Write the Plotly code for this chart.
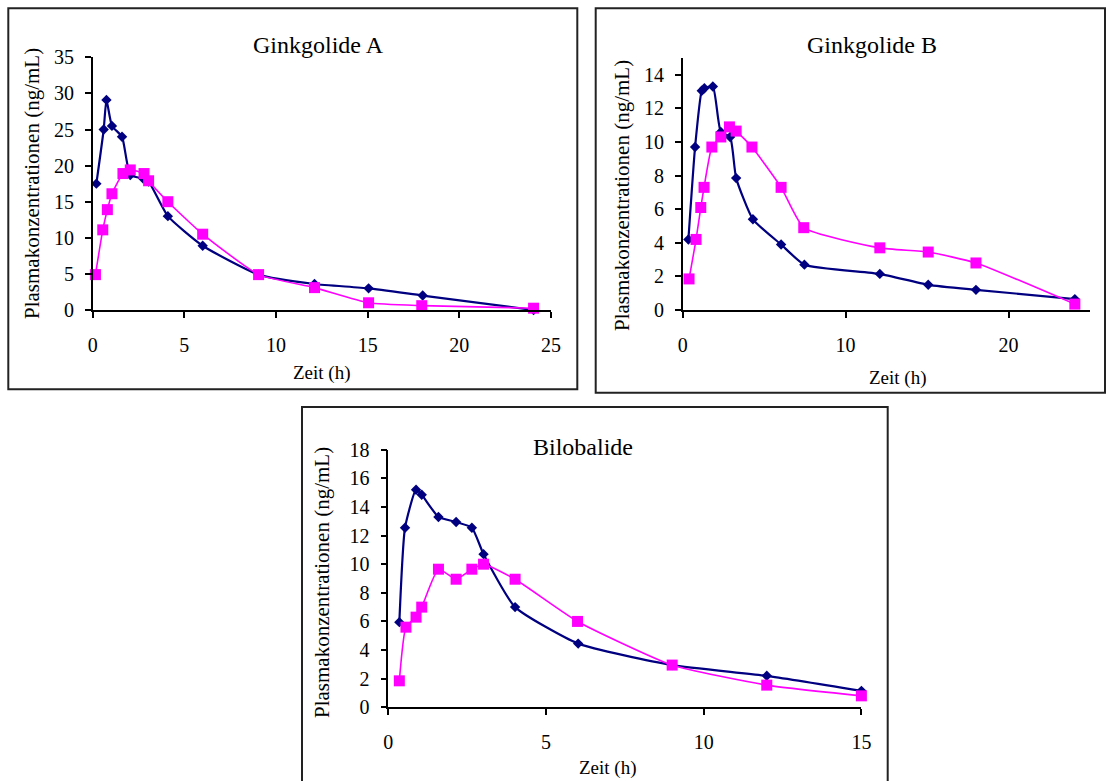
import plotly.graph_objects as go

W, H = 1109, 781

# Ginkgolide A
ga_t_blue = [0.2, 0.6, 0.75, 1.05, 1.6, 2.05, 2.75, 3.05, 4.1, 6.0, 9.05, 12.1, 15.05, 18.0, 24.05]
ga_c_blue = [17.5, 25.0, 29.1, 25.5, 24.0, 18.7, 18.2, 17.8, 13.0, 8.9, 4.9, 3.6, 3.0, 2.0, 0.0]
ga_t_pink = [0.15, 0.55, 0.8, 1.05, 1.65, 2.05, 2.8, 3.05, 4.1, 6.0, 9.05, 12.1, 15.05, 17.95, 24.05]
ga_c_pink = [4.9, 11.1, 13.9, 16.1, 18.9, 19.4, 18.9, 17.9, 15.0, 10.5, 4.9, 3.1, 1.0, 0.6, 0.25]

# Ginkgolide B
gb_t_blue = [0.35, 0.76, 1.17, 1.33, 1.85, 2.34, 2.91, 3.28, 4.31, 6.04, 7.47, 12.1, 15.07, 18.0, 24.07]
gb_c_blue = [4.2, 9.7, 13.05, 13.2, 13.3, 10.6, 10.3, 7.85, 5.4, 3.9, 2.7, 2.15, 1.5, 1.2, 0.65]
gb_t_pink = [0.39, 0.82, 1.11, 1.31, 1.79, 2.34, 2.87, 3.28, 4.25, 6.04, 7.43, 12.1, 15.07, 18.0, 24.07]
gb_c_pink = [1.85, 4.2, 6.1, 7.3, 9.7, 10.3, 10.9, 10.65, 9.7, 7.3, 4.9, 3.7, 3.45, 2.8, 0.35]

# Bilobalide
bb_t_blue = [0.35, 0.53, 0.88, 1.06, 1.59, 2.15, 2.65, 3.02, 4.02, 6.02, 9.0, 12.0, 15.0]
bb_c_blue = [5.95, 12.55, 15.2, 14.85, 13.3, 12.95, 12.55, 10.7, 7.0, 4.45, 2.95, 2.2, 1.15]
bb_t_pink = [0.35, 0.56, 0.88, 1.06, 1.59, 2.15, 2.65, 3.02, 4.02, 6.0, 9.0, 12.0, 15.0]
bb_c_pink = [1.85, 5.6, 6.3, 7.0, 9.65, 8.95, 9.65, 10.0, 8.95, 6.0, 2.95, 1.55, 0.8]

titles = ["Ginkgolide A", "Ginkgolide B", "Bilobalide"]
x_title = "Zeit (h)"
y_title = "Plasmakonzentrationen (ng/mL)"

BLUE = "#000080"
PINK = "#FF00FF"
FONT = "Liberation Serif, Times New Roman, serif"


def px(x):
    return x / W


def py(y):
    return 1 - y / H


fig = go.Figure()

panels = [
    dict(tb=ga_t_blue, cb=ga_c_blue, tp=ga_t_pink, cp=ga_c_pink,
         xd=(92.7, 551.0), yd=(310.0, 57.3), xr=[0, 25], yr=[0, 35], dx=5, dy=5),
    dict(tb=gb_t_blue, cb=gb_c_blue, tp=gb_t_pink, cp=gb_c_pink,
         xd=(682.7, 1090.0), yd=(310.0, 58.0), xr=[0, 25], yr=[0, 15], dx=10, dy=2),
    dict(tb=bb_t_blue, cb=bb_c_blue, tp=bb_t_pink, cp=bb_c_pink,
         xd=(388.3, 861.4), yd=(707.3, 449.7), xr=[0, 15], yr=[0, 18], dx=5, dy=2),
]

for i, p in enumerate(panels, start=1):
    xa = "x" if i == 1 else f"x{i}"
    ya = "y" if i == 1 else f"y{i}"
    fig.add_trace(go.Scatter(
        x=p["tb"], y=p["cb"], xaxis=xa, yaxis=ya, mode="lines+markers",
        line=dict(color=BLUE, width=2.2, shape="spline", smoothing=0.5),
        marker=dict(symbol="diamond", size=8, color=BLUE),
        showlegend=False, cliponaxis=False))
    fig.add_trace(go.Scatter(
        x=p["tp"], y=p["cp"], xaxis=xa, yaxis=ya, mode="lines+markers",
        line=dict(color=PINK, width=1.6, shape="spline", smoothing=0.5),
        marker=dict(symbol="square", size=11, color=PINK),
        showlegend=False, cliponaxis=False))

    axis_common = dict(showgrid=False, zeroline=False, showline=True, automargin=False,
                       linecolor="black", linewidth=1.5, ticks="outside",
                       ticklen=6, tickwidth=1.5, tickcolor="black",
                       tickfont=dict(family=FONT, size=20, color="black"))
    xkey = "xaxis" if i == 1 else f"xaxis{i}"
    ykey = "yaxis" if i == 1 else f"yaxis{i}"
    fig.update_layout(**{
        xkey: dict(domain=[px(p["xd"][0]), px(p["xd"][1])], range=p["xr"],
                   dtick=p["dx"], tick0=0, anchor=ya, ticklabelstandoff=10,
                   **axis_common),
        ykey: dict(domain=[py(p["yd"][0]), py(p["yd"][1])], range=p["yr"],
                   dtick=p["dy"], tick0=0, anchor=xa, ticklabelstandoff=7,
                   **axis_common),
    })

# panel frames
frames = [(8.3, 8.3, 577.3, 389.3), (595.7, 8.3, 1105.0, 392.7), (302.0, 407.0, 887.7, 800.0)]
shapes = []
for x0, y0, x1, y1 in frames:
    shapes.append(dict(type="rect", xref="paper", yref="paper",
                       x0=px(x0), x1=px(x1), y0=py(y1), y1=py(y0),
                       line=dict(color="#222222", width=2), layer="below"))

annotations = []
title_pos = [(318, 45), (872, 45), (583, 447)]
xt_pos = [(322, 373), (898, 378), (608, 768)]
yt_pos = [(32, 184), (622, 196), (322, 583)]
for (tx, ty), (ax_, ay_), (bx, by), t in zip(title_pos, xt_pos, yt_pos, titles):
    annotations.append(dict(text=t, x=px(tx), y=py(ty), xref="paper", yref="paper",
                            showarrow=False, xanchor="center", yanchor="middle",
                            font=dict(family=FONT, size=24, color="black")))
    annotations.append(dict(text=x_title, x=px(ax_), y=py(ay_), xref="paper", yref="paper",
                            showarrow=False, xanchor="center", yanchor="middle",
                            font=dict(family=FONT, size=19, color="black")))
    annotations.append(dict(text=y_title, x=px(bx), y=py(by), xref="paper", yref="paper",
                            showarrow=False, xanchor="center", yanchor="middle", textangle=-90,
                            font=dict(family=FONT, size=21, color="black")))

fig.update_layout(template="none", width=W, height=H, margin=dict(l=0, r=0, t=0, b=0),
                  paper_bgcolor="white", plot_bgcolor="white",
                  shapes=shapes, annotations=annotations)

fig.write_html("out.html")
